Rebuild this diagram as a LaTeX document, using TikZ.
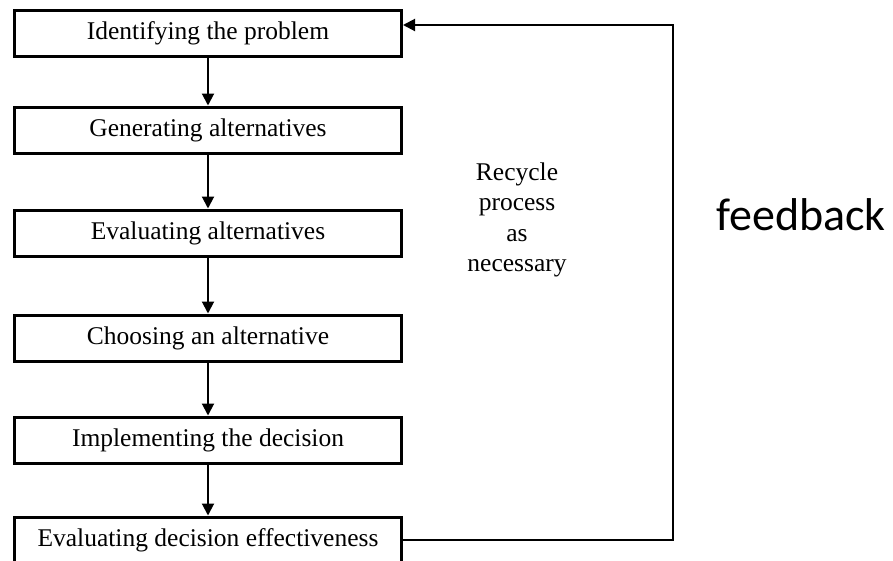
\documentclass[tikz,border=0pt]{standalone}
\usepackage{fontspec}
\setmainfont{Liberation Serif}
\newfontfamily\fbfont{Carlito}
\usetikzlibrary{arrows.meta}
\tikzset{
  stage/.style={draw, line width=3pt, minimum width=387pt, minimum height=46pt,
    inner sep=0pt, font=\fontsize{25.5}{30}\selectfont},
  flow/.style={line width=2pt, -{Triangle[length=12pt,width=12pt]}},
}
\begin{document}
\begin{tikzpicture}[x=1pt,y=-1pt]
        \clip (0,0) rectangle (893,560);
        \node[stage] (ident) at (208,33) {Identifying the problem};
        \node[stage] (gener) at (208,130) {Generating alternatives};
        \node[stage] (evalalt) at (208,233) {Evaluating alternatives};
        \node[stage] (choose) at (208,338) {Choosing an alternative};
        \node[stage] (implem) at (208,440) {Implementing the decision};
        \node[stage] (evaldec) at (208,540) {Evaluating decision effectiveness};
        \draw[flow] (ident) -- (gener);
        \draw[flow] (gener) -- (evalalt);
        \draw[flow] (evalalt) -- (choose);
        \draw[flow] (choose) -- (implem);
        \draw[flow] (implem) -- (evaldec);
        \coordinate (fbbot) at (673,540);
        \coordinate (fbtop) at (673,25);
        \draw[flow] (evaldec.east) -- (fbbot) -- (fbtop) -- (ident.east |- fbtop);
        \node[align=center, font=\fontsize{25.5}{30.5}\selectfont] (recycle) at (517,220)
          {Recycle\\process\\as\\necessary};
        \node[anchor=base, font=\fbfont\fontsize{46}{50}\selectfont] (feedback) at (801,230) {feedback};
    \end{tikzpicture}
\end{document}
